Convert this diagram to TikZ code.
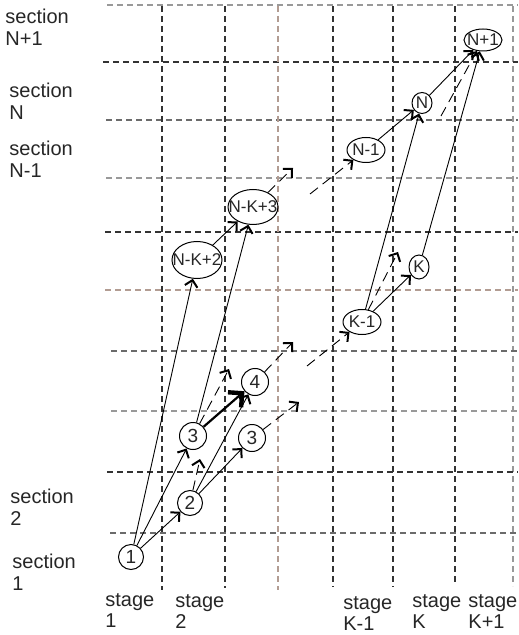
\documentclass[tikz,border=0pt]{standalone}
\usepackage{fontspec}
\setmainfont{Liberation Sans}
\usetikzlibrary{arrows.meta,shapes.geometric}
\definecolor{gridbrown}{RGB}{178,156,146}
\newcommand{\inell}[1]{\makebox[0pt]{#1}}
\tikzset{
	gdark/.style={draw=black!80, line width=0.6pt, dash pattern=on 3pt off 2pt},
	gmid/.style={draw=black!58, line width=0.7pt, dash pattern=on 3pt off 2pt},
	glight/.style={draw=black!40, line width=0.7pt, dash pattern=on 3pt off 2pt},
	gbrown/.style={draw=gridbrown, line width=0.7pt, dash pattern=on 3pt off 2pt},
	stg/.style={shape=circle, draw, line width=0.5pt, inner sep=0pt, minimum size=12.5pt, text=black!85, font=\fontsize{9.5}{10}\selectfont},
	sec/.style={shape=ellipse, draw, line width=0.5pt, inner sep=0pt, text=black!85, font=\fontsize{8.5}{9}\selectfont},
	link/.style={line width=0.45pt, -{Straight Barb[length=3.2pt,width=6.4pt,line width=1pt]}},
	dlink/.style={link, dash pattern=on 5pt off 3pt},
	heavy/.style={line width=1.1pt, -{Straight Barb[length=5pt,width=10pt,line width=2.2pt]}},
	lbl/.style={anchor=north west, align=left, inner sep=0pt, text=black!85, font=\fontsize{10}{10.7}\selectfont}
}
\begin{document}
\begin{tikzpicture}[x=0.5pt, y=-0.5pt]
	\useasboundingbox (0,0) rectangle (518,635);
	% Grid:
	\draw[glight] (107,5) -- (518,5) (106,178) -- (518,178) (111,411) -- (518,411) (513,6) -- (513,586);
	\draw[gdark] (103,62) -- (518,62) (105,232) -- (518,232) (107,472) -- (518,472);
	\draw[gmid] (106,120) -- (518,120) (111,351) -- (518,351) (110,533) -- (518,533);
	\draw[gbrown] (105,290) -- (518,290) (278,6) -- (278,590);
	\draw[gdark] (162,6) -- (162,590) (225,6) -- (225,588) (333,6) -- (333,587) (393,6) -- (393,587) (455,6) -- (455,585);
	% Nodes:
	\node[stg] (n1) at (131,557){1};
	\node[stg] (n2) at (190,503){2};
	\node[stg, minimum size=13.5pt] (n3a) at (193,436){3};
	\node[stg, minimum size=13.5pt] (n3b) at (252,438){3};
	\node[stg, minimum size=13.5pt] (n4) at (255,382){4};
	\node[sec, minimum width=25pt, minimum height=18.5pt] (nk2) at (197,260){\inell{N-K+2}};
	\node[sec, minimum width=25pt, minimum height=17.5pt] (nk3) at (253,207){\inell{N-K+3}};
	\node[sec, minimum width=19pt, minimum height=12.5pt] (nkm1) at (362,322){\inell{K-1}};
	\node[sec, minimum width=10pt, minimum height=12pt] (nk) at (419,267){\inell{K}};
	\node[sec, minimum width=19pt, minimum height=12.5pt] (nnm1) at (366,150){\inell{N-1}};
	\node[sec, minimum width=10pt, minimum height=10.5pt] (nn) at (422,103){\inell{N}};
	\node[sec, minimum width=19pt, minimum height=11pt] (nnp1) at (483,40){\inell{N+1}};
	% Loose ends of the dashed wires:
	\coordinate (c2) at (200,459);
	\coordinate (c3a) at (229,369);
	\coordinate (c3b) at (299,402);
	\coordinate (c4) at (293,342);
	\coordinate (ckm1) at (307,366);
	\coordinate (ck3) at (293,168);
	\coordinate (cnm1) at (310,194);
	\coordinate (ck) at (398,252);
	\coordinate (cnp1) at (441,116);
	% Wires:
	\draw[link] (n1) -- (n2);
	\draw[link] (n1) -- (n3a);
	\draw[link] (n1) -- (nk2);
	\draw[link] (n2) -- (n3b);
	\draw[link] (n2) -- (n4);
	\draw[dlink] (n2) -- (c2);
	\draw[heavy] (n3a) -- (n4);
	\draw[link] (n3a) -- (nk3);
	\draw[dlink] (n3a) -- (c3a);
	\draw[dlink] (n3b) -- (c3b);
	\draw[dlink] (n4) -- (c4);
	\draw[dlink] (ckm1) -- (nkm1);
	\draw[link] (nk2) -- (nk3);
	\draw[dlink] (nk3) -- (ck3);
	\draw[dlink] (cnm1) -- (nnm1);
	\draw[link] (nnm1) -- (nn);
	\draw[link] (nkm1) -- (nk);
	\draw[dlink] (nkm1) -- (ck);
	\draw[link] (nkm1) -- (nn);
	\draw[link] (nk) -- (nnp1);
	\draw[link] (nn) -- (nnp1);
	\draw[dlink] (cnp1) -- (nnp1);
	% Labels:
	\node[lbl] (sNp1) at (5,9){section\\N+1};
	\node[lbl] (sN) at (9,83){section\\N};
	\node[lbl] (sNm1) at (9,141){section\\N-1};
	\node[lbl] (s2) at (10,489){section\\2};
	\node[lbl] (s1) at (12,554){section\\1};
	\node[lbl] (t1) at (105,593){stage\\1};
	\node[lbl] (t2) at (175,594){stage\\2};
	\node[lbl] (tKm1) at (343,596){stage\\K-1};
	\node[lbl] (tK) at (412,594){stage\\K};
	\node[lbl] (tKp1) at (468,594){stage\\K+1};
\end{tikzpicture}
\end{document}
